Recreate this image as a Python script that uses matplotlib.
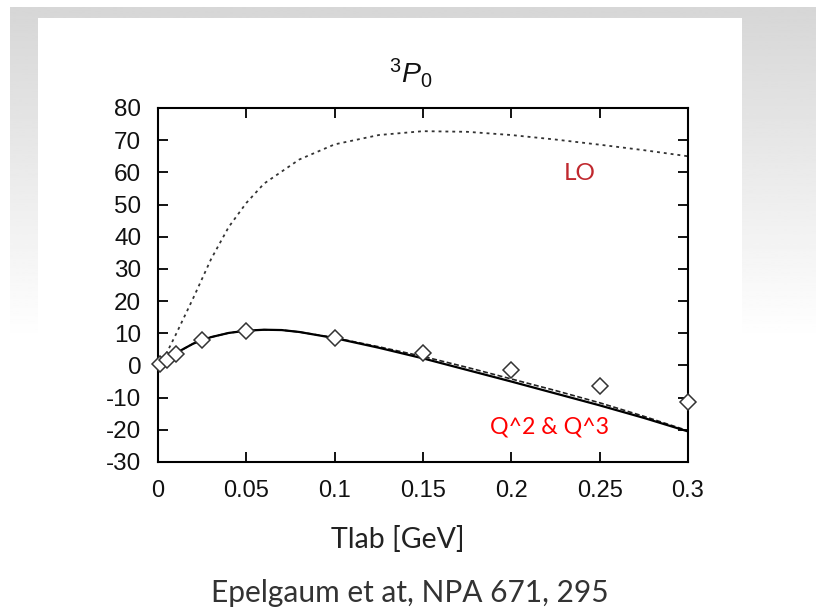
import matplotlib
matplotlib.use("Agg")
import matplotlib.pyplot as plt
import numpy as np
from matplotlib.patches import Rectangle

plt.rcParams['mathtext.fontset'] = 'custom'
plt.rcParams['mathtext.rm'] = 'Liberation Sans'
plt.rcParams['mathtext.it'] = 'Liberation Sans:italic'
plt.rcParams['axes.unicode_minus'] = False

# LO curve (dotted)
lo_x = [0, 0.005, 0.01, 0.02, 0.03, 0.04, 0.05, 0.06, 0.08, 0.1, 0.125, 0.15,
        0.175, 0.2, 0.225, 0.25, 0.275, 0.3]
lo_y = [0, 4, 9.5, 21, 33, 43, 50.5, 56.5, 64, 68.7, 71.6, 72.8, 72.6, 71.6,
        70.2, 68.6, 66.9, 65.0]

# Q^2 (solid) and Q^3 (dashed)
nlo_x = [0, 0.005, 0.01, 0.02, 0.03, 0.04, 0.05, 0.06, 0.07, 0.08, 0.1, 0.125,
         0.15, 0.175, 0.2, 0.225, 0.25, 0.275, 0.3]
q2_y = [0, 2, 3.8, 6.8, 8.8, 10.1, 10.8, 11.1, 11.0, 10.4, 8.5, 5.5, 2.2, -1.4,
        -5.0, -8.7, -12.4, -16.3, -20.5]
q3_y = [0, 2, 3.8, 6.8, 8.8, 10.1, 10.8, 11.1, 11.0, 10.4, 8.6, 5.8, 2.8, -0.6,
        -4.2, -7.8, -11.6, -15.8, -20.3]

# phase shift analysis points
pwa_x = [0.001, 0.005, 0.01, 0.025, 0.05, 0.1, 0.15, 0.2, 0.25, 0.3]
pwa_y = [0.3, 1.8, 3.7, 8.0, 10.7, 8.6, 3.8, -1.5, -6.5, -11.3]

W, H = 816, 609
fig = plt.figure(figsize=(W / 100, H / 100), dpi=100)

# slide background
bg = fig.add_axes([0, 0, 1, 1])
bg.set_xlim(0, W)
bg.set_ylim(H, 0)
bg.axis('off')
grad = np.linspace(0.84, 1.0, 200).reshape(-1, 1)
bg.imshow(grad, cmap='gray', vmin=0, vmax=1, aspect='auto',
          extent=(10, W, 340, 7), zorder=0)
bg.add_patch(Rectangle((38, 18), 704, 591, facecolor='white', edgecolor='none', zorder=1))

ax = fig.add_axes([158 / W, 1 - 462 / H, 530 / W, 354 / H])
ax.plot(lo_x, lo_y, color='#333333', lw=1.3, linestyle=(0, (1.6, 2.2)))
ax.plot(nlo_x, q3_y, color='#222222', lw=1.2, linestyle=(0, (3, 1.5)))
ax.plot(nlo_x, q2_y, color='black', lw=1.6)
ax.plot(pwa_x, pwa_y, linestyle='none', marker='D', markersize=8.5,
        markerfacecolor='white', markeredgecolor='#333333', markeredgewidth=1.1,
        clip_on=False, zorder=5)

ax.set_xlim(0, 0.3)
ax.set_ylim(-30, 80)
ax.set_xticks([0, 0.05, 0.1, 0.15, 0.2, 0.25, 0.3])
ax.set_xticklabels(['0', '0.05', '0.1', '0.15', '0.2', '0.25', '0.3'])
ax.set_yticks(range(-30, 81, 10))
ax.tick_params(direction='in', top=True, right=True, length=7, width=1.3,
               labelsize=17, labelcolor='#111111')
ax.tick_params(axis='x', pad=13)
ax.tick_params(axis='y', pad=12, labelsize=17.5)
for lab in ax.get_xticklabels() + ax.get_yticklabels():
    lab.set_family('Liberation Sans')
for s in ax.spines.values():
    s.set_linewidth(1.5)

fig.text(580 / W, 1 - 174 / H, 'LO', color='#c0282e', fontsize=17.5, family='Lato',
         ha='center', va='center')
fig.text(549 / W, 1 - 427 / H, 'Q^2 & Q^3', color='red', fontsize=16.7,
         family='Lato', ha='center', va='center')

fig.text(411 / W, 1 - 73 / H, r'$^3P_0$', fontsize=20.5, ha='center',
         va='center', color='#111111')
fig.text(398 / W, 1 - 540 / H, 'Tlab [GeV]', fontsize=20.5, family='Lato',
         ha='center', va='center', color='#222222')
fig.text(410 / W, 1 - 593 / H, 'Epelgaum et at, NPA 671, 295', fontsize=21.5,
         family='Lato', ha='center', va='center', color='#333333')

fig.savefig('out.png', dpi=100)
